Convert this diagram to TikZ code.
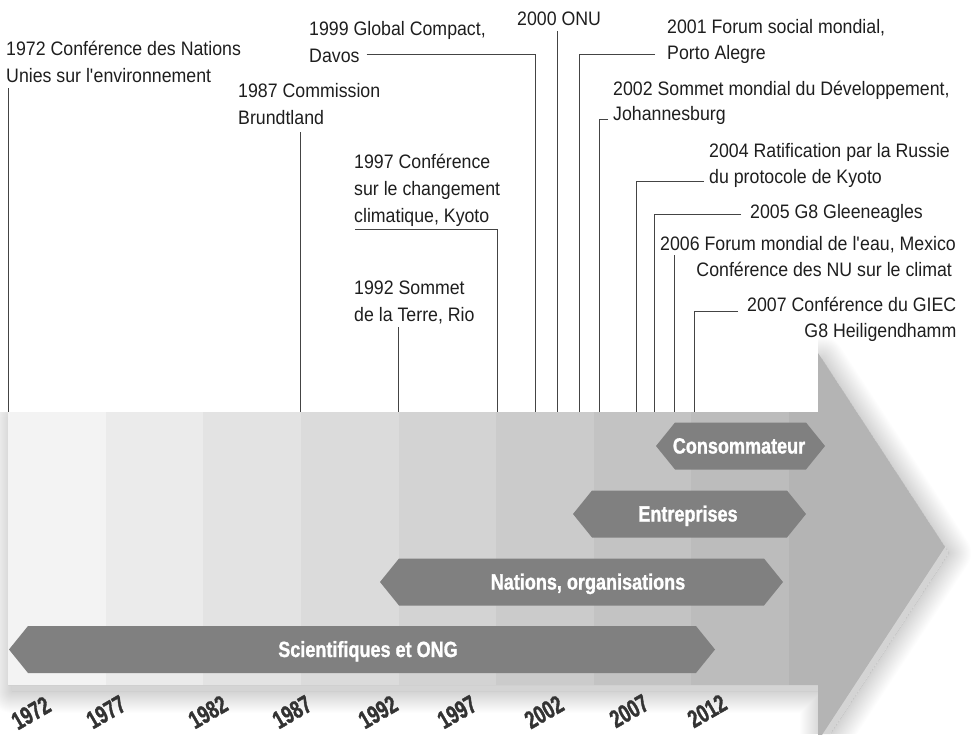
\documentclass[tikz,border=0pt]{standalone}
\usepackage{fontspec}
\setmainfont{Liberation Sans}[FakeStretch=0.91]
\newfontfamily\bandfont{Liberation Sans}[FakeStretch=0.82, FakeBold=1.2]
\newfontfamily\yearfont{Liberation Sans}[FakeStretch=0.72, FakeBold=1.3]
\usetikzlibrary{calc}

\definecolor{stripeA}{HTML}{F3F3F3}
\definecolor{stripeB}{HTML}{EBEBEB}
\definecolor{stripeC}{HTML}{E3E3E3}
\definecolor{stripeD}{HTML}{DBDBDB}
\definecolor{stripeE}{HTML}{D3D3D3}
\definecolor{stripeF}{HTML}{CBCBCB}
\definecolor{stripeG}{HTML}{C3C3C3}
\definecolor{stripeH}{HTML}{BCBCBC}
\definecolor{arrowgray}{HTML}{B4B4B4}
\definecolor{hexgray}{HTML}{808080}
\definecolor{linegray}{HTML}{444444}
\definecolor{labelgray}{HTML}{1E1E1E}
\definecolor{yeargray}{HTML}{333333}

\tikzset{
  lbl/.style={inner sep=0pt, anchor=base west, text=labelgray,
              font=\fontsize{19.5}{23}\selectfont},
  lblr/.style={lbl, anchor=base east},
  conn/.style={draw=linegray, line width=0.9pt},
  hexband/.style={fill=hexgray},
  bandtxt/.style={inner sep=0pt, anchor=base, text=white,
                  font=\bandfont\bfseries\fontsize{22}{26}\selectfont},
  yearlbl/.style={inner sep=0pt, rotate=30, text=yeargray,
                  font=\yearfont\bfseries\fontsize{25}{29}\selectfont}
}

% outline of the big timeline arrow
\def\arrowoutline{(8,412) -- (818,412) -- (818,353) -- (945,547) -- (818,741) -- (818,685) -- (8,685) -- cycle}

\begin{document}
\begin{tikzpicture}[x=1pt,y=-1pt]
\useasboundingbox (0,0) rectangle (971,734);
\clip (0,0) rectangle (971,734);

% soft drop shadow: solid core plus fading rim outside it
\begin{scope}
  \clip (0,412) -- (818,412) -- (818,0) -- (971,0) -- (971,734) -- (0,734) -- cycle;
  \begin{scope}[shift={(4,6)}]
    \begin{scope}[even odd rule]
      \clip (-100,-100) rectangle (1100,900) \arrowoutline;
      \foreach \w in {2,4,...,44} {
        \draw[line width=\w pt, line join=round, draw=black,
              draw opacity=0.0085] \arrowoutline;
      }
    \end{scope}
    \fill[black, fill opacity=0.17] \arrowoutline;
  \end{scope}
\end{scope}

% arrow body and head
\fill[arrowgray] \arrowoutline;

% five-year stripes
\foreach \i/\c in {0/stripeA,1/stripeB,2/stripeC,3/stripeD,4/stripeE,5/stripeF,6/stripeG,7/stripeH}
  \fill[\c] ({8+\i*97.625},412) rectangle ({8+(\i+1)*97.625},685);

% points on the time axis
\coordinate (t1972) at (8,412);
\coordinate (t1987) at (300,412);
\coordinate (t1992) at (398,412);
\coordinate (t1997) at (497,412);
\coordinate (t1999) at (535,412);
\coordinate (t2000) at (557,412);
\coordinate (t2001) at (579,412);
\coordinate (t2002) at (599,412);
\coordinate (t2004) at (636,412);
\coordinate (t2005) at (654,412);
\coordinate (t2006) at (674,412);
\coordinate (t2007) at (694,412);

% actors
\fill[hexband] (656,446) -- (675,422.5) -- (806,422.5) -- (825,446) -- (806,469.5) -- (675,469.5) -- cycle;
\node[bandtxt] (consommateur) at (739,453.5) {Consommateur};
\fill[hexband] (573,514) -- (592,490.5) -- (787,490.5) -- (806,514) -- (787,537.5) -- (592,537.5) -- cycle;
\node[bandtxt] (entreprises) at (688,521.5) {Entreprises};
\fill[hexband] (380,582) -- (399,558.5) -- (764,558.5) -- (783,582) -- (764,605.5) -- (399,605.5) -- cycle;
\node[bandtxt] (nations) at (588,589.5) {Nations, organisations};
\fill[hexband] (9,649.5) -- (28,626) -- (696,626) -- (715,649.5) -- (696,673) -- (28,673) -- cycle;
\node[bandtxt] (scientifiques) at (368,657) {Scientifiques et ONG};

% years
\node[yearlbl] (y1972) at (31,713) {1972};
\node[yearlbl] (y1977) at (106,712) {1977};
\node[yearlbl] (y1982) at (208,712) {1982};
\node[yearlbl] (y1987) at (292,712) {1987};
\node[yearlbl] (y1992) at (378,712) {1992};
\node[yearlbl] (y1997) at (457,712) {1997};
\node[yearlbl] (y2002) at (544,712) {2002};
\node[yearlbl] (y2007) at (629,711) {2007};
\node[yearlbl] (y2012) at (707,711) {2012};

% events
\node[lbl] (ev1972a) at (6,55) {1972 Conférence des Nations};
\node[lbl] (ev1972b) at (6,82) {Unies sur l\textquotesingle environnement};
\node[lbl] (ev1987a) at (238,97) {1987 Commission};
\node[lbl] (ev1987b) at (238,124) {Brundtland};
\node[lbl] (ev1997a) at (354,168) {1997 Conférence};
\node[lbl] (ev1997b) at (354,195) {sur le changement};
\node[lbl] (ev1997c) at (354,222) {climatique, Kyoto};
\node[lbl] (ev1992a) at (354,294) {1992 Sommet};
\node[lbl] (ev1992b) at (354,321) {de la Terre, Rio};
\node[lbl] (ev1999a) at (309,35) {1999 Global Compact,};
\node[lbl] (ev1999b) at (309,62) {Davos};
\node[lbl] (ev2000) at (517,25) {2000 ONU};
\node[lbl] (ev2001a) at (667,33) {2001 Forum social mondial,};
\node[lbl] (ev2001b) at (667,59) {Porto Alegre};
\node[lbl] (ev2002a) at (613,95) {2002 Sommet mondial du Développement,};
\node[lbl] (ev2002b) at (613,120) {Johannesburg};
\node[lbl] (ev2004a) at (709,157) {2004 Ratification par la Russie};
\node[lbl] (ev2004b) at (709,183) {du protocole de Kyoto};
\node[lbl] (ev2005) at (750,218) {2005 G8 Gleeneagles};
\node[lbl] (ev2006a) at (660,250) {2006 Forum mondial de l\textquotesingle eau, Mexico};
\node[lblr] (ev2006b) at ($(ev2006a.base east)+(-4,26)$) {Conférence des NU sur le climat};
\node[lbl] (ev2007a) at (747,311) {2007 Conférence du GIEC};
\node[lblr] (ev2007b) at ($(ev2007a.base east)+(0,26)$) {G8 Heiligendhamm};

% connectors down to the axis
\draw[conn] ($(t1972 |- ev1972b.base)+(0,6)$) -- (t1972);
\draw[conn] ($(t1987 |- ev1987b.base)+(0,8)$) -- (t1987);
\draw[conn] ($(t1992 |- ev1992b.base)+(0,6)$) -- (t1992);
\draw[conn] ($(ev1997c.base west)+(1,7)$) -| (t1997);
\draw[conn] ($(ev1999b.base east)+(7,-8)$) -| (t1999);
\draw[conn] ($(t2000 |- ev2000.base)+(0,6)$) -- (t2000);
\draw[conn] ($(ev2001b.base west)+(-12,-5)$) -| (t2001);
\draw[conn] ($(ev2002b.base west)+(-5,-1)$) -| (t2002);
\draw[conn] ($(ev2004b.base west)+(-5,-2)$) -| (t2004);
\draw[conn] ($(ev2005.base west)+(-9,-4)$) -| (t2005);
\draw[conn] ($(t2006 |- ev2006a.base)+(0,5)$) -- (t2006);
\draw[conn] ($(ev2007a.base west)+(-9,0)$) -| (t2007);
\end{tikzpicture}
\end{document}
